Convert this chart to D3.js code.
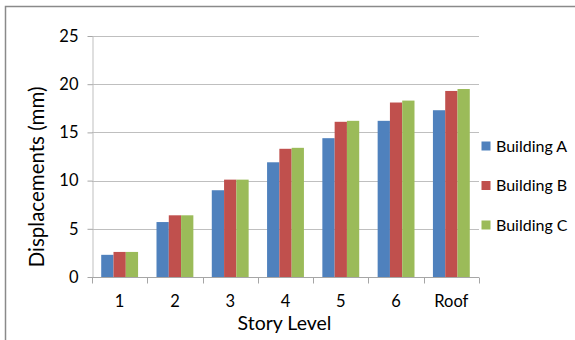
<!DOCTYPE html>
<html>
<head>
<meta charset="utf-8">
<script src="https://cdn.jsdelivr.net/npm/d3@7"></script>
<style>
  html, body { margin: 0; padding: 0; background: #fff; }
  svg { display: block; }
  text { font-family: Lato, "Open Sans", sans-serif; fill: #000; }
</style>
</head>
<body>
<svg id="chart" width="575" height="340"></svg>
<script>
// Story levels along the x axis
const categories = ["1", "2", "3", "4", "5", "6", "Roof"];
// Series names shown in the legend
const seriesNames = ["Building A", "Building B", "Building C"];
// Displacements (mm) per story for each building
const buildingA = [2.3, 5.7, 9.0, 11.9, 14.4, 16.2, 17.3];
const buildingB = [2.6, 6.4, 10.1, 13.3, 16.1, 18.1, 19.3];
const buildingC = [2.6, 6.4, 10.1, 13.4, 16.2, 18.3, 19.5];
// Y-axis tick values
const yTicks = [0, 5, 10, 15, 20, 25];
const colors = ["#4F81BD", "#C0504D", "#9BBB59"];

const series = [buildingA, buildingB, buildingC];
const svg = d3.select("#chart");

// Outer frame (top and left edges)
svg.append("path")
  .attr("d", "M5.5,340 L5.5,6.5 L575,6.5")
  .attr("fill", "none")
  .attr("stroke", "#8a8a8a")
  .attr("stroke-width", 1.5);

const plot = { left: 92, right: 479, top: 36, bottom: 277 };

const x0 = d3.scaleBand().domain(categories).range([plot.left, plot.right]).padding(0);
const x1 = d3.scaleBand().domain(seriesNames).range([0, x0.bandwidth()])
  .paddingInner(0).paddingOuter(0.75);
const y = d3.scaleLinear().domain([0, 25]).range([plot.bottom, plot.top]);

// Horizontal gridlines
svg.append("g")
  .selectAll("line")
  .data(yTicks.filter(d => d > 0))
  .join("line")
  .attr("x1", plot.left).attr("x2", plot.right)
  .attr("y1", d => Math.round(y(d)) + 0.5).attr("y2", d => Math.round(y(d)) + 0.5)
  .attr("stroke", "#BFBFBF");

// Bars
const groups = svg.append("g")
  .selectAll("g")
  .data(categories)
  .join("g")
  .attr("transform", d => `translate(${x0(d)},0)`);

groups.selectAll("rect")
  .data((c, i) => seriesNames.map((s, j) => ({ s, j, v: series[j][i] })))
  .join("rect")
  .attr("x", d => x1(d.s))
  .attr("width", x1.bandwidth())
  .attr("y", d => y(d.v))
  .attr("height", d => y(0) - y(d.v))
  .attr("fill", d => colors[d.j]);

// Y axis
const yAxis = svg.append("g")
  .attr("transform", `translate(${plot.left + 0.5},0)`)
  .call(d3.axisLeft(y).tickValues(yTicks).tickSize(5).tickPadding(9).tickSizeOuter(0));
yAxis.select(".domain").attr("stroke", "#BFBFBF");
yAxis.selectAll(".tick line").attr("stroke", "#A6A6A6");
yAxis.selectAll(".tick text")
  .attr("font-size", 16.5)
  .attr("font-family", "Lato, 'Open Sans', sans-serif")
  .attr("fill", "#000");

// X axis: ticks sit on category boundaries
const xAxisG = svg.append("g").attr("transform", `translate(0,${Math.round(plot.bottom) + 0.5})`);
xAxisG.append("line")
  .attr("x1", plot.left).attr("x2", plot.right)
  .attr("stroke", "#A6A6A6");
const bounds = categories.map(c => x0(c)).concat([x0(categories[categories.length - 1]) + x0.bandwidth()]);
xAxisG.selectAll("line.tk")
  .data(bounds)
  .join("line")
  .attr("class", "tk")
  .attr("x1", d => Math.round(d) + 0.5).attr("x2", d => Math.round(d) + 0.5)
  .attr("y1", 0).attr("y2", 6)
  .attr("stroke", "#A6A6A6");
xAxisG.selectAll("text")
  .data(categories)
  .join("text")
  .attr("x", d => x0(d) + x0.bandwidth() / 2)
  .attr("y", 29)
  .attr("text-anchor", "middle")
  .attr("font-size", 16.5)
  .text(d => d);

// Axis titles
svg.append("text")
  .attr("x", (plot.left + plot.right) / 2 - 1)
  .attr("y", 330)
  .attr("text-anchor", "middle")
  .attr("font-size", 19.5)
  .text("Story Level");

svg.append("text")
  .attr("transform", `translate(44,177) rotate(-90)`)
  .attr("text-anchor", "middle")
  .attr("font-size", 20.5)
  .text("Displacements (mm)");

// Legend
const legend = svg.append("g")
  .selectAll("g")
  .data(seriesNames)
  .join("g")
  .attr("transform", (d, i) => `translate(481.5,${146 + i * 39.5})`);
legend.append("rect")
  .attr("x", 0).attr("y", -4.5)
  .attr("width", 9).attr("height", 9)
  .attr("fill", (d, i) => colors[i]);
legend.append("text")
  .attr("x", 14.5)
  .attr("y", 0)
  .attr("dy", "0.35em")
  .attr("font-size", 16)
  .text(d => d);
</script>
</body>
</html>
